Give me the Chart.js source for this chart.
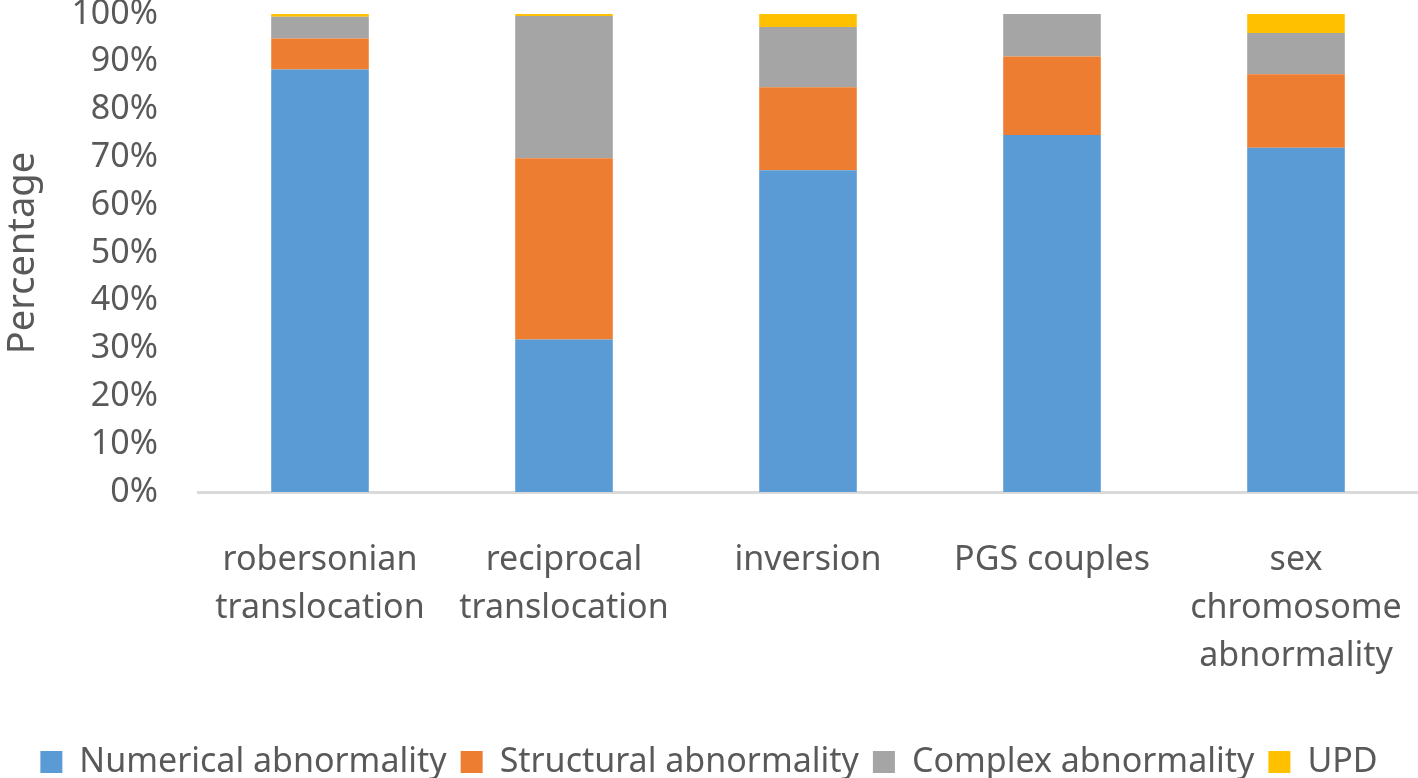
<!DOCTYPE html>
<html lang="en">
<head>
    <meta charset="UTF-8">
    <title>Abnormality types by group</title>
    <style>
        html, body {
            margin: 0;
            padding: 0;
            background: #ffffff;
        }
        #wrap {
            width: 1418px;
            height: 778px;
            position: relative;
        }
    </style>
</head>
<body>
    <div id="wrap">
        <canvas id="chart"></canvas>
    </div>

    <script src="https://cdn.jsdelivr.net/npm/chart.js"></script>
    <script>
        const categories = [
            ["robersonian", "translocation"],
            ["reciprocal", "translocation"],
            ["inversion"],
            ["PGS couples"],
            ["sex", "chromosome", "abnormality"]
        ];

        // percentages
        const numerical = [88.4, 31.9, 67.3, 74.7, 72.0];
        const structural = [6.5, 37.9, 17.4, 16.4, 15.4];
        const complex = [4.5, 29.8, 12.6, 8.9, 8.6];
        const upd = [0.6, 0.4, 2.7, 0, 4.0];

        const yTicks = [0, 10, 20, 30, 40, 50, 60, 70, 80, 90, 100];

        const textColor = '#595959';
        const fontFamily = '"Noto Sans", "Open Sans", sans-serif';

        new Chart(document.getElementById("chart"), {
            type: "bar",
            data: {
                labels: categories,
                datasets: [
                    { label: 'Numerical abnormality', data: numerical, backgroundColor: '#5b9bd5' },
                    { label: 'Structural abnormality', data: structural, backgroundColor: '#ed7d31' },
                    { label: 'Complex abnormality', data: complex, backgroundColor: '#a5a5a5' },
                    { label: 'UPD', data: upd, backgroundColor: '#ffc000' }
                ]
            },
            options: {
                responsive: true,
                maintainAspectRatio: false,
                animation: false,
                layout: {
                    // legend sits a bit lower than chart.js would put it
                    padding: { top: 0, right: 0, bottom: -11, left: 0 }
                },
                datasets: {
                    bar: {
                        categoryPercentage: 1,
                        barPercentage: 0.4
                    }
                },
                plugins: {
                    tooltip: { enabled: false },
                    legend: {
                        position: 'bottom',
                        labels: {
                            color: textColor,
                            boxWidth: 22,
                            boxHeight: 22,
                            padding: 14,
                            font: { family: fontFamily, size: 34 }
                        }
                    }
                },
                scales: {
                    x: {
                        stacked: true,
                        grid: { display: false },
                        border: { display: true, color: '#d9d9d9', width: 3 },
                        ticks: {
                            color: textColor,
                            padding: 36,
                            maxRotation: 0,
                            autoSkip: false,
                            font: { family: fontFamily, size: 34, lineHeight: 1.41 }
                        },
                        afterFit: function (scale) {
                            scale.height = 239;
                            scale.paddingLeft = 0;
                            scale.paddingRight = 0;
                        }
                    },
                    y: {
                        stacked: true,
                        min: 0,
                        max: 100,
                        afterBuildTicks: function (scale) {
                            scale.ticks = yTicks.map(v => ({ value: v }));
                        },
                        grid: { display: false },
                        border: { display: false },
                        ticks: {
                            color: textColor,
                            padding: 32,
                            autoSkip: false,
                            font: { family: fontFamily, size: 34 },
                            callback: v => v + '%'
                        },
                        title: {
                            display: true,
                            text: 'Percentage',
                            color: textColor,
                            padding: 0,
                            font: { family: fontFamily, size: 38 }
                        },
                        afterFit: function (scale) {
                            scale.width = 198;
                            scale.paddingTop = 14;
                            scale.paddingBottom = 0;
                        }
                    }
                }
            }
        });
    </script>
</body>
</html>
